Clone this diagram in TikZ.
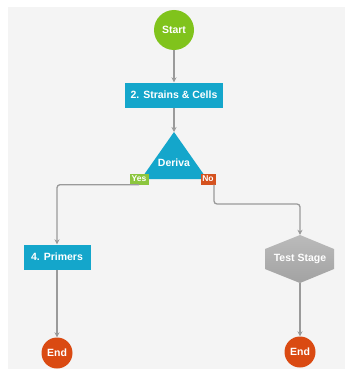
\documentclass[tikz,border=0pt]{standalone}
\usepackage{fontspec}
\setsansfont{Liberation Sans}
\usetikzlibrary{arrows.meta}
\definecolor{pagegrey}{HTML}{F4F4F4}
\definecolor{startgreen}{HTML}{80C31C}
\definecolor{stepblue}{HTML}{14A6CB}
\definecolor{endred}{HTML}{DA4A12}
\definecolor{yesgreen}{HTML}{8CC63E}
\definecolor{nored}{HTML}{D5521F}
\definecolor{linegrey}{HTML}{9A9A9A}
\definecolor{testtop}{HTML}{BBBBBB}
\definecolor{testbottom}{HTML}{A2A2A2}
\begin{document}
\begin{tikzpicture}[
  x=1pt, y=1pt,
  font=\fontsize{10.5}{12}\selectfont\sffamily\bfseries,
  process/.style={rectangle, fill=stepblue, text=white, minimum height=25pt, inner sep=0pt},
  startnode/.style={circle, fill=startgreen, text=white, minimum size=40pt, inner sep=0pt},
  endnode/.style={circle, fill=endred, text=white, minimum size=31pt, inner sep=0pt},
  tag/.style={rectangle, text=white, minimum height=11pt, inner sep=1pt, font=\fontsize{8.5}{9}\selectfont\sffamily\bfseries},
  flow/.style={draw=linegrey, line width=1.3pt, -{Stealth[length=5pt,width=5pt]}},
  node distance=65pt
]
\useasboundingbox (0,0) rectangle (348,-369);
\fill[white] (0,0) rectangle (348,-369);
\fill[pagegrey] (8,-7) rectangle (345,-369);

\node[startnode] (start) at (174,-30) {Start};
\node[process, below of=start, minimum width=98pt] (strains) {2. Strains \& Cells};

% decision triangle
\coordinate (derivtop) at (174,-132);
\fill[stepblue] (derivtop) -- (207,-179) -- (141,-179) -- cycle;
\node[text=white] (deriv) at (174,-163) {Deriva};
\node[tag, fill=yesgreen, minimum width=19pt] (yes) at (139,-179) {Yes};
\node[tag, fill=nored, minimum width=15pt] (no) at (208,-179) {No};

\node[process, minimum width=67pt] (primers) at (57,-257) {4. Primers};
\node[endnode, below of=primers, node distance=96pt] (endleft) {End};

% test stage hexagon
\shade[top color=testtop, bottom color=testbottom] (300,-235) -- (334,-249) -- (334,-269) -- (300,-283) -- (265,-269) -- (265,-249) -- cycle;
\node[rectangle, text=white, minimum width=69pt, minimum height=48pt, inner sep=0pt] (test) at (300,-259) {Test Stage};
\node[endnode, below of=test, node distance=93pt] (endright) {End};

\coordinate (nobend) at (214,-204);

\draw[flow] (start) -- (strains);
\draw[flow] (strains) -- (derivtop);
\draw[flow, rounded corners=3pt] (yes.south) -| (primers.north);
\draw[flow, rounded corners=3pt] (nobend |- no.south) -- (nobend) -| (test.north);
\draw[flow] (primers) -- (endleft);
\draw[flow] (test.south) -- (endright);
\end{tikzpicture}
\end{document}
